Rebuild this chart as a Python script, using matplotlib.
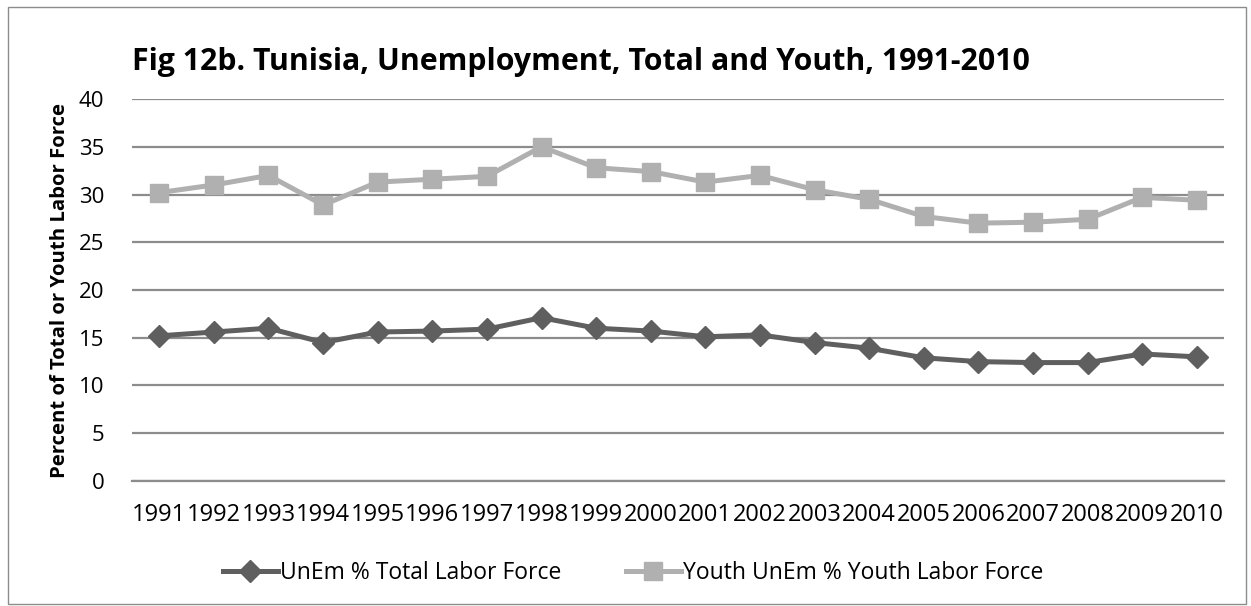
import matplotlib
matplotlib.use("Agg")
import matplotlib.pyplot as plt
from matplotlib.patches import Rectangle

years = [str(y) for y in range(1991, 2011)]
total_unem = [15.2, 15.6, 16.0, 14.5, 15.6, 15.7, 15.9, 17.1, 16.0, 15.7,
              15.1, 15.3, 14.5, 13.9, 12.9, 12.5, 12.4, 12.4, 13.3, 13.0]
youth_unem = [30.2, 31.0, 32.0, 28.9, 31.3, 31.6, 31.9, 35.0, 32.8, 32.4,
              31.3, 32.0, 30.5, 29.5, 27.7, 27.0, 27.1, 27.4, 29.7, 29.4]

plt.rcParams["font.family"] = ["Open Sans", "DejaVu Sans"]

fig = plt.figure(figsize=(12.51, 6.06), dpi=100)
ax = fig.add_axes([0.1055, 0.2063, 0.873, 0.6303])

x = list(range(len(years)))
ax.plot(x, total_unem, color="#5f5f5f", linewidth=3.6, marker="D",
        markersize=11, label="UnEm % Total Labor Force")
ax.plot(x, youth_unem, color="#b0b0b0", linewidth=3.6, marker="s",
        markersize=13, label="Youth UnEm % Youth Labor Force")

ax.set_xlim(-0.5, len(years) - 0.5)
ax.set_ylim(0, 40)
ax.set_yticks(range(0, 41, 5))
ax.set_xticks(x)
ax.set_xticklabels(years)
ax.tick_params(axis="x", length=0, labelsize=17, pad=16)
ax.tick_params(axis="y", length=0, labelsize=16, pad=20)
ax.grid(axis="y", color="#8c8c8c", linewidth=1.6)
ax.set_axisbelow(True)
for s in ["top", "right", "left"]:
    ax.spines[s].set_visible(False)
ax.spines["bottom"].set_color("#8c8c8c")
ax.spines["bottom"].set_linewidth(1.6)

ax.set_ylabel("Percent of Total or Youth Labor Force", fontsize=14.6,
              fontweight="bold", labelpad=6)
fig.text(0.464, 0.898, "Fig 12b. Tunisia, Unemployment, Total and Youth, 1991-2010",
         ha="center", va="center", fontsize=21.8, fontweight="bold")

fig.legend(loc="center", bbox_to_anchor=(0.506, 0.054), ncol=2, frameon=False,
           fontsize=16.5, handlelength=2.4, handletextpad=0.1, columnspacing=2.8)

fig.patches.append(Rectangle((0.006, 0.003), 0.99, 0.985, transform=fig.transFigure,
                             fill=False, edgecolor="#8c8c8c", linewidth=1))

plt.savefig("out.png", dpi=100)
